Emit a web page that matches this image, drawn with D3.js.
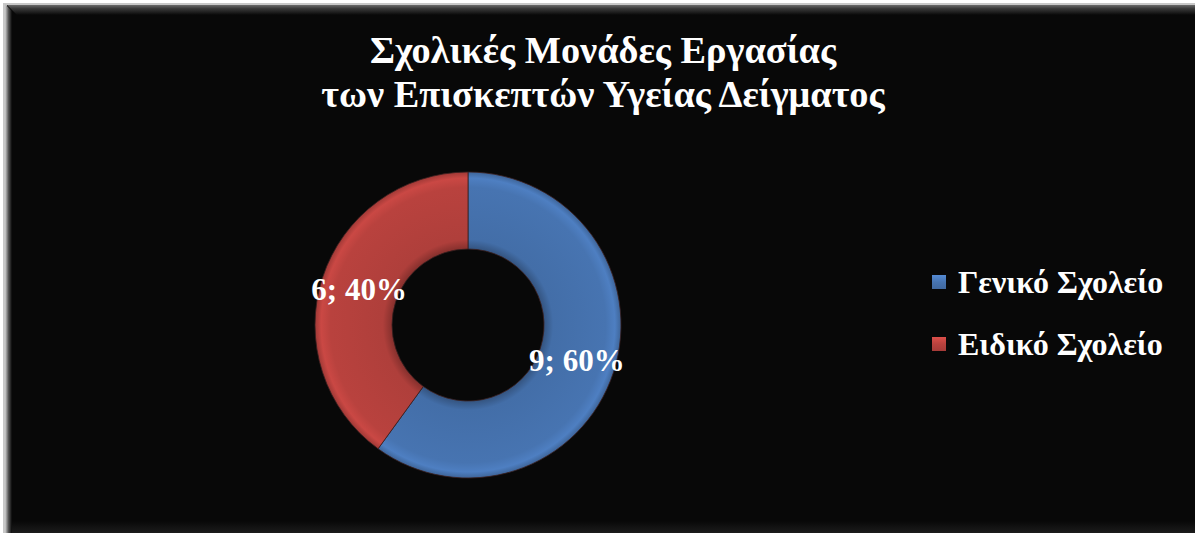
<!DOCTYPE html>
<html>
<head>
<meta charset="utf-8">
<script src="https://cdn.jsdelivr.net/npm/d3@7"></script>
<style>
  html, body { margin: 0; padding: 0; background: #ffffff; }
  svg { display: block; }
</style>
</head>
<body>
<svg id="chart" width="1195" height="533"></svg>
<script>
// Data
const titleLines = ["Σχολικές Μονάδες Εργασίας", "των Επισκεπτών Υγείας Δείγματος"];
const categories = ["Γενικό Σχολείο", "Ειδικό Σχολείο"];
const values = [9, 6];
const colors = ["#4774b1", "#b9423e"];

const W = 1195, H = 533;
const serif = "'Liberation Serif', 'Times New Roman', serif";
const svg = d3.select("#chart");
const defs = svg.append("defs");

// Panel with bevelled edges
const topBevel = defs.append("linearGradient").attr("id", "topBevel")
  .attr("x1", 0).attr("y1", 0).attr("x2", 0).attr("y2", 1);
topBevel.append("stop").attr("offset", 0).attr("stop-color", "#6a6a6a");
topBevel.append("stop").attr("offset", 0.35).attr("stop-color", "#3a3a3a");
topBevel.append("stop").attr("offset", 1).attr("stop-color", "#080808");

const leftBevel = defs.append("linearGradient").attr("id", "leftBevel")
  .attr("x1", 0).attr("y1", 0).attr("x2", 1).attr("y2", 0);
leftBevel.append("stop").attr("offset", 0).attr("stop-color", "#d0d0d0");
leftBevel.append("stop").attr("offset", 0.5).attr("stop-color", "#555555");
leftBevel.append("stop").attr("offset", 1).attr("stop-color", "#080808");

const bottomBevel = defs.append("linearGradient").attr("id", "bottomBevel")
  .attr("x1", 0).attr("y1", 0).attr("x2", 0).attr("y2", 1);
bottomBevel.append("stop").attr("offset", 0).attr("stop-color", "#080808");
bottomBevel.append("stop").attr("offset", 1).attr("stop-color", "#1c1c1c");

svg.append("rect").attr("x", 0).attr("y", 0).attr("width", W).attr("height", H).attr("fill", "#ffffff");
svg.append("rect").attr("x", 3).attr("y", 3).attr("width", W).attr("height", H).attr("fill", "#c8c8c8");
svg.append("rect").attr("x", 7).attr("y", 5).attr("width", W).attr("height", H).attr("fill", "#080808");
svg.append("path")
  .attr("d", `M7,5 L${W},5 L${W},15 L17,15 Z`)
  .attr("fill", "url(#topBevel)");
svg.append("path")
  .attr("d", `M5,4 L12,11 L12,${H} L5,${H} Z`)
  .attr("fill", "url(#leftBevel)");
svg.append("rect").attr("x", 12).attr("y", 521).attr("width", W).attr("height", 12)
  .attr("fill", "url(#bottomBevel)");

// Title
const title = svg.append("text")
  .attr("x", 603).attr("y", 63)
  .attr("text-anchor", "middle")
  .attr("font-family", serif)
  .attr("font-weight", "bold")
  .attr("font-size", 38.3)
  .attr("fill", "#ffffff");
titleLines.forEach((t, i) => {
  title.append("tspan").attr("x", 603).attr("dy", i === 0 ? 0 : 44).text(t);
});

// Donut
const cx = 468, cy = 325, rOuter = 153, rInner = 76;
const g = svg.append("g").attr("transform", `translate(${cx},${cy})`);

const pie = d3.pie().sort(null).value(d => d)(values);
const arc = d3.arc().innerRadius(rInner).outerRadius(rOuter);
const total = d3.sum(values);

// radial shading across the ring width
colors.forEach((c, i) => {
  const base = d3.color(c);
  const grad = defs.append("radialGradient").attr("id", "ring" + i)
    .attr("gradientUnits", "userSpaceOnUse")
    .attr("cx", 0).attr("cy", 0).attr("r", rOuter);
  const k = rInner / rOuter;
  grad.append("stop").attr("offset", k).attr("stop-color", base.darker(0.9));
  grad.append("stop").attr("offset", k + 0.06).attr("stop-color", base.darker(0.15));
  grad.append("stop").attr("offset", 0.9).attr("stop-color", base);
  grad.append("stop").attr("offset", 0.96).attr("stop-color", base.brighter(0.25));
  grad.append("stop").attr("offset", 1).attr("stop-color", base.darker(0.4));
});

g.selectAll("path.slice")
  .data(pie)
  .join("path")
  .attr("class", "slice")
  .attr("d", arc)
  .attr("fill", (d, i) => `url(#ring${i})`)
  .attr("stroke", "#3a2020")
  .attr("stroke-width", 0.8);

// Data labels
g.selectAll("text.lbl")
  .data(pie)
  .join("text")
  .attr("class", "lbl")
  .attr("transform", d => `translate(${arc.centroid(d)})`)
  .attr("text-anchor", "middle")
  .attr("dy", "0.35em")
  .attr("font-family", serif)
  .attr("font-weight", "bold")
  .attr("font-size", 31)
  .attr("fill", "#ffffff")
  .text(d => `${d.data}; ${d3.format(".0%")(d.data / total)}`);

// Legend
const legend = svg.append("g").attr("transform", "translate(932,0)");
const legY = [282, 344];
categories.forEach((name, i) => {
  const base = d3.color(colors[i]);
  const lg = defs.append("linearGradient").attr("id", "leg" + i)
    .attr("x1", 0).attr("y1", 0).attr("x2", 0).attr("y2", 1);
  lg.append("stop").attr("offset", 0).attr("stop-color", base.brighter(0.5));
  lg.append("stop").attr("offset", 0.5).attr("stop-color", base);
  lg.append("stop").attr("offset", 1).attr("stop-color", base.darker(0.3));
  legend.append("rect")
    .attr("x", 0).attr("y", legY[i] - 7)
    .attr("width", 14).attr("height", 14)
    .attr("fill", `url(#leg${i})`);
  legend.append("text")
    .attr("x", 26).attr("y", legY[i])
    .attr("dy", "0.35em")
    .attr("font-family", serif)
    .attr("font-weight", "bold")
    .attr("font-size", 32)
    .attr("fill", "#ffffff")
    .text(name);
});
</script>
</body>
</html>
